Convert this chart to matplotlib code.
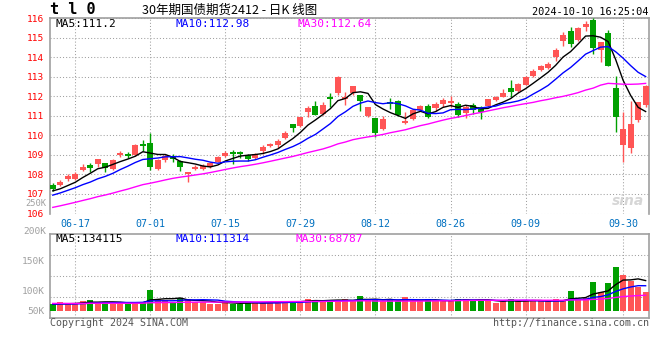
import matplotlib
matplotlib.use("Agg")
import matplotlib.pyplot as plt
import numpy as np
import pandas as pd

# trading days shown (2024)
dates = ["06-12", "06-13", "06-14", "06-17", "06-18", "06-19", "06-20", "06-21", "06-24", "06-25",
         "06-26", "06-27", "06-28", "07-01", "07-02", "07-03", "07-04", "07-05", "07-08", "07-09",
         "07-10", "07-11", "07-12", "07-15", "07-16", "07-17", "07-18", "07-19", "07-22", "07-23",
         "07-24", "07-25", "07-26", "07-29", "07-30", "07-31", "08-01", "08-02", "08-05", "08-06",
         "08-07", "08-08", "08-09", "08-12", "08-13", "08-14", "08-15", "08-16", "08-19", "08-20",
         "08-21", "08-22", "08-23", "08-26", "08-27", "08-28", "08-29", "08-30", "09-02", "09-03",
         "09-04", "09-05", "09-06", "09-09", "09-10", "09-11", "09-12", "09-13", "09-18", "09-19",
         "09-20", "09-23", "09-24", "09-25", "09-26", "09-27", "09-30", "10-08", "10-09", "10-10"]

open_ = [107.48, 107.46, 107.77, 107.78, 108.21, 108.50, 108.54, 108.58, 108.28, 108.98,
         109.04, 108.97, 109.58, 109.62, 108.29, 108.72, 108.92, 108.66, 108.03, 108.29,
         108.29, 108.38, 108.65, 108.95, 109.13, 109.17, 109.00, 108.83, 109.20, 109.46,
         109.49, 109.88, 110.58, 110.48, 111.18, 111.50, 111.09, 111.98, 112.15, 111.84,
         112.15, 112.06, 110.99, 110.90, 110.30, 111.72, 111.77, 110.61, 110.82, 111.30,
         111.50, 111.38, 111.60, 111.67, 111.60, 111.16, 111.55, 111.43, 111.52, 111.83,
         111.97, 112.44, 112.27, 112.58, 113.04, 113.35, 113.43, 114.03, 114.80, 115.34,
         114.88, 115.56, 115.90, 114.37, 115.22, 112.44, 109.48, 109.34, 110.79, 111.56]
high = [107.58, 107.70, 108.03, 108.14, 108.55, 108.57, 108.80, 108.60, 108.79, 109.18,
        109.15, 109.53, 109.77, 110.12, 108.80, 109.04, 109.06, 108.72, 108.13, 108.47,
        108.51, 108.62, 108.94, 109.22, 109.25, 109.22, 109.03, 109.11, 109.51, 109.61,
        109.80, 110.22, 110.58, 110.96, 111.50, 111.76, 111.68, 112.18, 113.03, 112.23,
        112.52, 112.06, 111.46, 110.90, 111.00, 111.89, 111.80, 111.21, 111.33, 111.57,
        111.62, 111.72, 111.90, 112.00, 111.72, 111.55, 111.64, 111.50, 111.86, 112.00,
        112.38, 112.84, 112.70, 113.03, 113.38, 113.60, 113.77, 114.45, 115.27, 115.56,
        115.56, 115.85, 116.02, 114.76, 115.39, 113.04, 111.17, 111.76, 111.70, 112.58]
low = [107.15, 107.40, 107.68, 107.71, 108.15, 108.12, 108.40, 108.10, 108.22, 108.87,
       108.84, 108.92, 109.22, 108.20, 108.25, 108.65, 108.62, 108.19, 107.63, 108.22,
       108.25, 108.34, 108.61, 108.88, 108.52, 108.82, 108.71, 108.78, 109.03, 109.39,
       109.34, 109.80, 110.15, 110.45, 110.96, 111.04, 111.04, 111.47, 112.06, 111.55,
       112.08, 111.23, 110.95, 109.93, 110.25, 111.35, 110.98, 110.58, 110.76, 111.25,
       110.87, 111.26, 111.47, 111.47, 110.96, 110.88, 111.10, 110.84, 111.47, 111.75,
       111.95, 111.98, 112.22, 112.55, 112.96, 113.30, 113.38, 113.81, 114.59, 114.54,
       114.83, 115.34, 114.15, 113.77, 113.57, 110.16, 108.63, 109.09, 110.67, 111.47]
close = [107.24, 107.63, 107.93, 108.04, 108.37, 108.32, 108.79, 108.32, 108.75, 109.10,
         108.96, 109.52, 109.47, 108.40, 108.75, 108.95, 108.80, 108.40, 108.10, 108.40,
         108.45, 108.56, 108.90, 109.12, 109.06, 109.05, 108.79, 109.06, 109.39, 109.56,
         109.73, 110.14, 110.36, 110.96, 111.42, 111.04, 111.55, 111.86, 113.00, 111.97,
         112.52, 111.77, 111.46, 110.13, 110.85, 111.58, 111.04, 110.72, 111.30, 111.50,
         110.92, 111.61, 111.81, 111.76, 111.04, 111.47, 111.30, 111.21, 111.86, 111.94,
         112.17, 112.20, 112.61, 113.00, 113.30, 113.57, 113.64, 114.37, 115.14, 114.68,
         115.51, 115.68, 114.45, 114.76, 113.57, 110.96, 110.33, 110.59, 111.70, 112.50]
# estimated closes before the window (only used to start the moving averages)
warmup_close = [105.20, 105.30, 105.35, 105.50, 105.60, 105.65, 105.80, 105.85, 105.90, 106.00,
                106.05, 106.10, 106.20, 106.30, 106.35, 106.40, 106.50, 106.55, 106.65, 106.75,
                106.50, 106.60, 106.70, 106.80, 107.00, 107.10, 107.10, 107.20, 107.15]

# volume, thousands of lots
volume = [32, 40, 32, 32, 44, 47, 40, 38, 32, 38,
          32, 40, 40, 93, 51, 47, 40, 56, 51, 40,
          40, 31, 31, 44, 32, 32, 35, 38, 38, 40,
          38, 45, 42, 40, 55, 48, 42, 50, 46, 54,
          42, 64, 49, 51, 42, 51, 42, 60, 46, 42,
          51, 46, 46, 42, 55, 55, 42, 55, 42, 35,
          42, 55, 42, 46, 46, 42, 42, 51, 46, 88,
          54, 57, 128, 82, 122, 192, 158, 132, 104, 85]
warmup_volume = [38, 35, 40, 33, 36, 31, 37, 34, 39, 32, 36, 35, 33, 38, 34, 37, 32, 35, 36, 30,
                 33, 31, 34, 29, 31, 28, 30, 27, 29]

date_ticks = ["06-17", "07-01", "07-15", "07-29", "08-12", "08-26", "09-09", "09-30"]
price_ticks = [106, 107, 108, 109, 110, 111, 112, 113, 114, 115, 116]
ma_periods = [5, 10, 30]
ma_colors = ["black", "#0000ff", "#ff00ff"]
price_legend = ["MA5:111.2", "MA10:112.98", "MA30:112.64"]
vol_legend = ["MA5:134115", "MA10:111314", "MA30:68787"]

W, H = 660, 360
RED = "#ff5555"
GREEN = "#00a000"
GRID = "#a0a0a0"
MONO = "DejaVu Sans Mono"


def fx(x):
    return x / W


def fy(y):
    return 1 - y / H


x = np.arange(len(dates))
o = np.array(open_)
c = np.array(close)
cols = [RED if cc >= oo else GREEN for oo, cc in zip(o, c)]

n0 = len(warmup_close)
s_close = pd.Series(warmup_close + close)
s_vol = pd.Series(warmup_volume + volume)

fig = plt.figure(figsize=(W / 100, H / 100), dpi=100)
ax = fig.add_axes([fx(50), fy(213.5), fx(599), 195.5 / H])
axv = fig.add_axes([fx(50), fy(318), fx(599), 84 / H])

# candles
body_lo = np.minimum(o, c)
body_h = np.maximum(np.abs(c - o), 0.04)
ax.vlines(x, low, high, colors=cols, lw=1.0, zorder=3)
ax.bar(x, body_h, bottom=body_lo, width=0.8, color=cols, linewidth=0, zorder=4)
for n, col in zip(ma_periods, ma_colors):
    ma = s_close.rolling(n).mean().iloc[n0:].values
    ax.plot(x, ma, color=col, lw=1.0, zorder=5)

xl = (-0.37, len(dates) - 1 + 0.45)
ax.set_xlim(*xl)
ax.set_ylim(106, 116)
tick_pos = [dates.index(d) for d in date_ticks]
ax.set_xticks(tick_pos)
ax.set_xticklabels(date_ticks)
ax.set_yticks(price_ticks)
ax.set_yticklabels([str(p) for p in price_ticks])
ax.tick_params(axis="y", length=0, pad=4, labelcolor="red", labelsize=6.8)
ax.tick_params(axis="x", length=0, pad=4, labelcolor="#0070c0", labelsize=7.2)
for lab in ax.get_xticklabels() + ax.get_yticklabels():
    lab.set_family(MONO)
ax.grid(True, ls=(0, (1, 2)), color=GRID, lw=0.75)
ax.set_axisbelow(True)
for sp in ["top", "left", "right"]:
    ax.spines[sp].set_color(GRID)
    ax.spines[sp].set_linewidth(1.2)
ax.spines["bottom"].set_visible(False)

# volume
axv.bar(x, volume, width=0.8, color=cols, linewidth=0, zorder=3)
for n, col in zip(ma_periods, ma_colors):
    ma = s_vol.rolling(n).mean().iloc[n0:].values
    axv.plot(x, ma, color=col, lw=1.0, zorder=4)
kpp = 4.41  # thousand lots per pixel
vlo, vhi = -7 * kpp, 77 * kpp
axv.set_ylim(vlo, vhi)
axv.set_xlim(*xl)
axv.set_xticks(tick_pos)
axv.set_xticklabels([])
axv.set_yticks([0, 20 * kpp, 50 * kpp])
axv.set_yticklabels(["50K", "100K", "150K"])
axv.tick_params(axis="both", length=0, pad=4, labelcolor="#a0a0a0", labelsize=6.8)
for lab in axv.get_yticklabels():
    lab.set_family(MONO)
axv.grid(True, axis="x", ls=(0, (1, 2)), color=GRID, lw=0.75)
for f in [0.25, 0.5, 0.75]:
    axv.axhline(vlo + f * (vhi - vlo), ls=(0, (1, 2)), color=GRID, lw=0.75, zorder=1)
axv.set_axisbelow(True)
for sp in axv.spines.values():
    sp.set_color(GRID)
    sp.set_linewidth(1.2)

fig.text(fx(46), fy(204), "250K", ha="right", va="center", color="#a0a0a0", size=6.3, family=MONO)
fig.text(fx(46), fy(231), "200K", ha="right", va="center", color="#a0a0a0", size=6.8, family=MONO)

# legends
for xp, txt, col in zip([55, 175, 297], price_legend, ma_colors):
    fig.text(fx(xp), fy(24), txt, ha="left", va="center", color=col, size=8, family=MONO)
for xp, txt, col in zip([55, 175, 295], vol_legend, ma_colors):
    fig.text(fx(xp), fy(239), txt, ha="left", va="center", color=col, size=8, family=MONO)

# header / footer
fig.text(fx(50), fy(10), "t l 0", ha="left", va="center", color="black", size=11,
         weight="bold", family=MONO)
fig.text(fx(230), fy(10), "30年期国债期货2412 - 日K 线图", ha="center", va="center",
         color="black", size=9, family=["Noto Sans CJK SC", "DejaVu Sans"])
fig.text(fx(648), fy(12), "2024-10-10 16:25:04", ha="right", va="center", color="black",
         size=7.4, family=MONO)
fig.text(fx(50), fy(323), "Copyright 2024 SINA.COM", ha="left", va="center", color="#555555",
         size=7.2, family=MONO)
fig.text(fx(649), fy(323), "http://finance.sina.com.cn", ha="right", va="center",
         color="#555555", size=7.2, family=MONO)
fig.text(fx(628), fy(201), "sina", ha="center", va="center", color="#cccccc", size=10,
         style="italic", weight="bold", alpha=0.8)

fig.savefig("out.png", dpi=100)
